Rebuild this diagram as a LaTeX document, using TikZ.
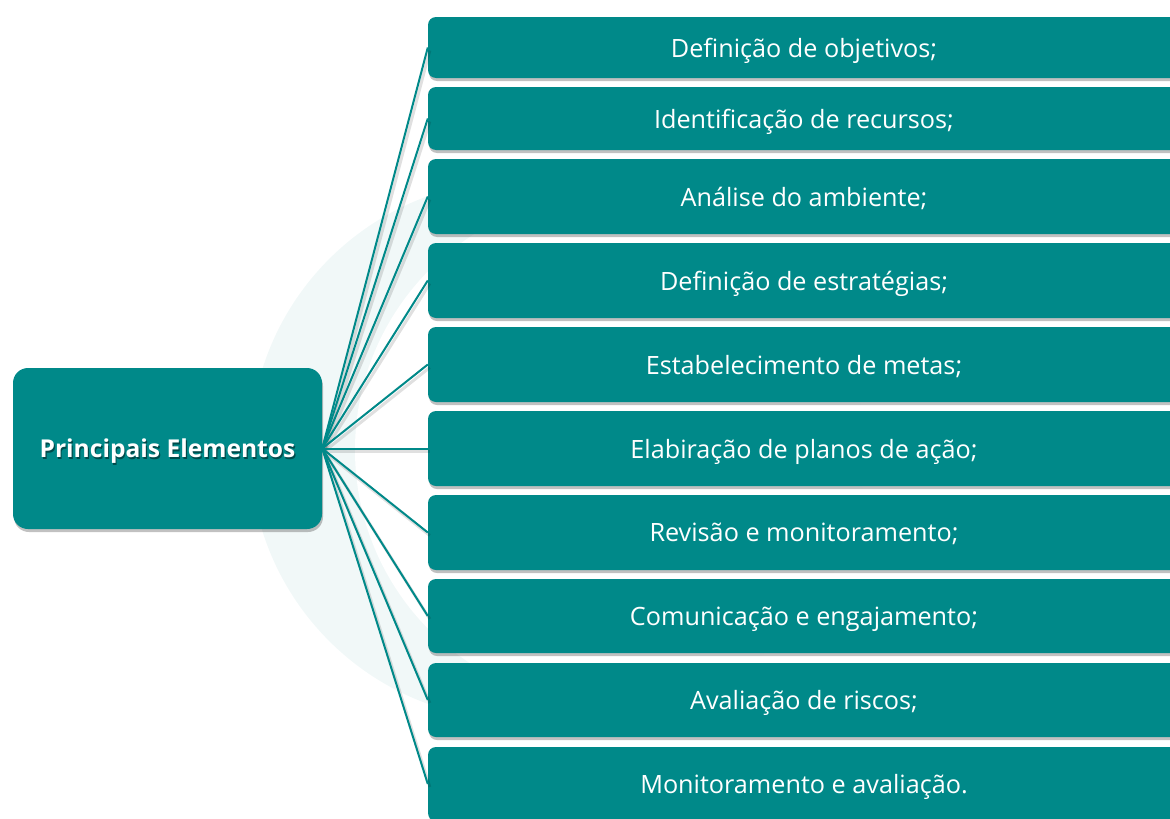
\documentclass[tikz,border=0pt]{standalone}
\usepackage{fontspec}
\setmainfont{Open Sans}
\usetikzlibrary{shadows}
\definecolor{tealbox}{RGB}{0,137,137}
\definecolor{wmark}{RGB}{241,248,248}
\begin{document}
\begin{tikzpicture}[x=1pt,y=-1pt,
  itembox/.style={fill=tealbox, rounded corners=8pt, minimum width=752pt, inner sep=0pt, text depth=0pt,
    drop shadow={shadow xshift=1pt, shadow yshift=-3pt, opacity=0.35, fill=black!70},
    text=white, font=\fontsize{25.2}{30}\selectfont},
  centerbox/.style={fill=tealbox, rounded corners=15pt, minimum width=309pt, minimum height=161pt, inner sep=0pt,
    drop shadow={shadow xshift=1pt, shadow yshift=-3pt, opacity=0.35, fill=black!70}},
  centertext/.style={font=\fontsize{24.6}{29}\selectfont\bfseries, inner sep=0pt, text depth=0pt},
  link/.style={draw=tealbox, line width=2pt},
  linkshadow/.style={draw=black, opacity=0.12, line width=3pt}]
\useasboundingbox (0,0) rectangle (1170,819);
\begin{scope}
\clip (0,0) rectangle (1170,819);
% watermark
\fill[wmark] (520,450) circle[radius=270];
\fill[white] (610,450) circle[radius=255];
% boxes
\node[itembox, minimum height=61pt] (b1) at (804,47.5) {Definição de objetivos;};
\node[itembox, minimum height=63pt] (b2) at (804,118.5) {Identificação de recursos;};
\node[itembox, minimum height=75pt] (b3) at (804,196.5) {Análise do ambiente;};
\node[itembox, minimum height=75pt] (b4) at (804,280.5) {Definição de estratégias;};
\node[itembox, minimum height=75pt] (b5) at (804,364.5) {Estabelecimento de metas;};
\node[itembox, minimum height=75pt] (b6) at (804,448.5) {Elabiração de planos de ação;};
\node[itembox, minimum height=75pt] (b7) at (804,532.5) {Revisão e monitoramento;};
\node[itembox, minimum height=74pt] (b8) at (804,616) {Comunicação e engajamento;};
\node[itembox, minimum height=74pt] (b9) at (804,700) {Avaliação de riscos;};
\node[itembox, minimum height=74pt] (b10) at (804,784) {Monitoramento e avaliação.};
% central
\node[centerbox] (c) at (167.5,448.5) {};
\foreach \i in {1,...,10} {
  \draw[linkshadow] ([shift={(2,3)}]c.east) -- ([shift={(2,3)}]b\i.west);
}
\foreach \i in {1,...,10} {
  \draw[link] (c.east) -- (b\i.west);
}
\node[centertext, text=black, opacity=0.45] (cts) at ([shift={(1.2,1.8)}]c.center) {Principais Elementos};
\node[centertext, text=white] (ct) at (c.center) {Principais Elementos};
\end{scope}
\end{tikzpicture}
\end{document}
